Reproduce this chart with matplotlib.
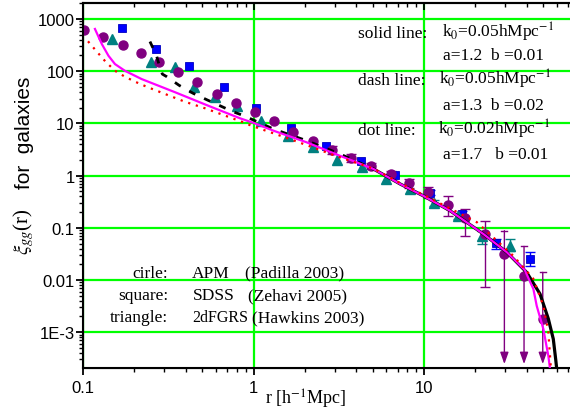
import matplotlib
matplotlib.use('Agg')
import matplotlib.pyplot as plt
import numpy as np
from matplotlib.ticker import LogLocator, FixedLocator, FixedFormatter, NullFormatter

plt.rcParams['mathtext.fontset'] = 'stix'

# ---------------------------------------------------------------- data
# circles : APM (Padilla 2003)
r_apm = [0.102, 0.1305, 0.171, 0.220, 0.280, 0.360, 0.468, 0.607, 0.789, 1.02,
         1.32, 1.71, 2.24, 2.90, 3.75, 4.89, 6.38, 8.2, 10.6, 13.8,
         17.5, 22.8, 29.6, 38.6, 49.7]
xi_apm = [624, 458, 318, 220, 150, 98, 61, 36.6, 24.3, 16.7,
          11.0, 6.9, 4.54, 3.13, 2.14, 1.53, 1.06, 0.71, 0.48, 0.277,
          0.152, 0.076, 0.0315, 0.0121, 0.00179]
# error bars (upper, lower) for the APM points that have them
r_apm_err = [2.90, 3.75, 4.89, 6.38, 8.2, 10.6, 13.8, 17.5, 22.8]
xi_apm_err = [3.13, 2.14, 1.53, 1.06, 0.71, 0.48, 0.277, 0.152, 0.076]
apm_hi = [3.7, 2.55, 1.78, 1.25, 0.86, 0.60, 0.40, 0.23, 0.137]
apm_lo = [2.65, 1.8, 1.31, 0.9, 0.59, 0.38, 0.17, 0.071, 0.0072]
# upper limits (arrows down)
r_apm_lim = [29.6, 38.6, 49.7]
apm_lim_hi = [0.088, 0.044, 0.014]
apm_lim_lo = 2.45e-4

# squares : SDSS (Zehavi 2005)
r_sdss = [0.169, 0.268, 0.417, 0.671, 1.04, 1.67, 2.66, 4.25, 6.76, 10.9,
          16.6, 26.4, 41.9]
xi_sdss = [664, 266, 127, 49, 19.7, 8.2, 3.74, 1.93, 1.03, 0.47,
           0.184, 0.0505, 0.0252]
r_sdss_err = [10.9, 16.6, 26.4, 41.9]
xi_sdss_err = [0.47, 0.184, 0.0505, 0.0252]
sdss_hi = [0.53, 0.21, 0.0617, 0.034]
sdss_lo = [0.42, 0.16, 0.0398, 0.0188]

# triangles : 2dFGRS (Hawkins 2003)
r_2df = [0.147, 0.251, 0.347, 0.448, 0.594, 0.796, 1.10, 1.6, 2.22, 3.1,
         4.31, 5.96, 8.28, 11.4, 15.9, 21.9, 31.9]
xi_2df = [414, 152, 122, 50.5, 31.6, 21.8, 11.2, 5.8, 3.48, 2.02,
          1.44, 0.86, 0.553, 0.30, 0.17, 0.069, 0.045]
r_2df_err = [11.4, 15.9, 21.9, 31.9]
xi_2df_err = [0.30, 0.17, 0.069, 0.045]
df_hi = [0.34, 0.19, 0.085, 0.061]
df_lo = [0.26, 0.15, 0.05, 0.036]

# model curves
r_solid = [0.1175, 0.129, 0.141, 0.154, 0.176, 0.221, 0.347, 0.543, 0.835, 1.02,
           1.31, 2.05, 3.21, 5.05, 7.25, 9.9, 14.2, 22.3, 30.6, 39.0,
           43.8, 45.8, 50.1, 53.6, 54.8]
xi_solid = [645, 331, 198, 137, 102, 70.6, 39.5, 21.8, 12.5, 10.0,
            7.25, 4.34, 2.4, 1.34, 0.69, 0.41, 0.213, 0.076, 0.034, 0.0155,
            0.0067, 0.0032, 0.00115, 0.00035, 0.0002]

r_dash = [0.247, 0.27, 0.28, 0.292, 0.31, 0.366, 0.442, 0.531, 0.628, 0.751,
          0.883, 1.31, 2.05, 3.21, 5.05]
xi_dash = [370, 198, 130, 88, 78.5, 53.7, 37.8, 28.5, 22.2, 17.0,
           13.9, 7.8, 4.67, 2.6, 1.34]
r_black = [5.05, 7.25, 9.9, 14.2, 22.3, 30.6, 40, 47.9, 53.6, 57.3,
           59.2, 60.0]
xi_black = [1.34, 0.69, 0.41, 0.213, 0.076, 0.034, 0.014, 0.0054, 0.0018, 0.00074,
            0.0003, 0.0002]

r_dot = [0.107, 0.12, 0.135, 0.154, 0.176, 0.202, 0.231, 0.264, 0.303, 0.396,
         0.519, 0.665, 0.851, 0.975, 1.64, 3.21, 5.05, 7.25, 9.9, 14.2,
         20.4, 33.4, 43.8, 50.1, 53.6, 55.5]
xi_dot = [374, 241, 155, 102, 78.5, 63, 52, 43.6, 36.6, 26,
          19.5, 14.5, 10.8, 9.0, 5.0, 2.24, 1.36, 0.72, 0.43, 0.235,
          0.128, 0.029, 0.0105, 0.0032, 0.001, 0.0002]

yticks = [1000, 100, 10, 1, 0.1, 0.01, 0.001]
yticklabels = ['1000', '100', '10', '1', '0.1', '0.01', '1E-3']
xticks = [0.1, 1, 10]
xticklabels = ['0.1', '1', '10']

# ---------------------------------------------------------------- plot
W, H = 570, 414
fig = plt.figure(figsize=(W / 100., H / 100.), dpi=100)
ax = fig.add_axes([83. / W, 1 - 369. / H, 1 - 83. / W, (369. - 4.) / H])

purple = '#800080'
teal = '#008080'
blue = '#0000ff'

# error bars
ax.errorbar(r_sdss_err, xi_sdss_err,
            yerr=[np.array(xi_sdss_err) - np.array(sdss_lo), np.array(sdss_hi) - np.array(xi_sdss_err)],
            fmt='none', ecolor=blue, elinewidth=1, capsize=3.5, zorder=2.5)
ax.errorbar(r_2df_err, xi_2df_err,
            yerr=[np.array(xi_2df_err) - np.array(df_lo), np.array(df_hi) - np.array(xi_2df_err)],
            fmt='none', ecolor=teal, elinewidth=1, capsize=3.5, zorder=2.5)
ax.errorbar(r_apm_err, xi_apm_err,
            yerr=[np.array(xi_apm_err) - np.array(apm_lo), np.array(apm_hi) - np.array(xi_apm_err)],
            fmt='none', ecolor=purple, elinewidth=1, capsize=3.5, zorder=2.5)
for r, hi in zip(r_apm_lim, apm_lim_hi):
    ax.plot([r / 1.04, r * 1.04], [hi, hi], color=purple, lw=1, zorder=2.5)
    ax.annotate('', xy=(r, apm_lim_lo), xytext=(r, hi),
                arrowprops=dict(arrowstyle='-|>,head_length=0.7,head_width=0.25',
                                color=purple, lw=1, shrinkA=0, shrinkB=0),
                zorder=2.5)

# data points
ax.plot(r_sdss, xi_sdss, 's', color=blue, ms=6, mec='#0000c0', mew=0.6, zorder=3)
ax.plot(r_2df, xi_2df, '^', color=teal, ms=7.5, mec=teal, zorder=3.1)
ax.plot(r_apm, xi_apm, 'o', color=purple, ms=6.5, mec=purple, zorder=3.2)

# model lines
ax.plot(r_black, xi_black, '-', color='black', lw=2.3, zorder=4)
ax.plot(r_dash, xi_dash, color='black', lw=2, linestyle=(0, (2.5, 3.5)), zorder=4.1)
ax.plot(r_solid, xi_solid, '-', color='#ff00ff', lw=1.6, zorder=4.2)
ax.plot(r_dot, xi_dot, color='#ff0000', lw=1.6, linestyle=(0, (1, 2.6)), zorder=4.3)

ax.set_xscale('log')
ax.set_yscale('log')
ax.set_xlim(0.1, 71.8)
ax.set_ylim(2.06e-4, 2027)

ax.grid(True, which='major', color='#00ff00', lw=1.6, zorder=1)
ax.set_axisbelow(True)

ax.xaxis.set_major_locator(FixedLocator(xticks))
ax.xaxis.set_major_formatter(FixedFormatter(xticklabels))
ax.xaxis.set_minor_locator(LogLocator(base=10, subs=np.arange(2, 10), numticks=20))
ax.xaxis.set_minor_formatter(NullFormatter())
ax.yaxis.set_major_locator(FixedLocator(yticks))
ax.yaxis.set_major_formatter(FixedFormatter(yticklabels))
ax.yaxis.set_minor_locator(LogLocator(base=10, subs=np.arange(2, 10), numticks=20))
ax.yaxis.set_minor_formatter(NullFormatter())

for lab in ax.get_xticklabels() + ax.get_yticklabels():
    lab.set_family('Liberation Sans')
    lab.set_fontsize(12)

ax.tick_params(which='major', direction='out', length=5, width=1.3, top=False, right=False)
ax.tick_params(which='minor', direction='out', length=3, width=1.0, top=False, right=False)
ax.tick_params(axis='y', pad=1)
ax.tick_params(axis='x', pad=4)

for side in ['left', 'bottom', 'top']:
    ax.spines[side].set_linewidth(1.5)
ax.spines['right'].set_visible(False)

# inward ticks on the top edge
ax2 = ax.twiny()
ax2.set_xscale('log')
ax2.set_xlim(ax.get_xlim())
ax2.xaxis.set_major_locator(FixedLocator(xticks))
ax2.xaxis.set_minor_locator(LogLocator(base=10, subs=np.arange(2, 10), numticks=20))
ax2.xaxis.set_major_formatter(NullFormatter())
ax2.xaxis.set_minor_formatter(NullFormatter())
ax2.tick_params(which='major', direction='in', length=5, width=1.3)
ax2.tick_params(which='minor', direction='in', length=3, width=1.0)
ax2.spines['right'].set_visible(False)
ax2.spines['top'].set_linewidth(1.5)


def ftext(x, y, s, **kw):
    fig.text(x / W, 1 - y / H, s, **kw)


serif = dict(family='Liberation Serif', fontsize=12.5, va='baseline')

ftext(358, 37.5, 'solid line:', ha='left', **serif)
ftext(442, 37.5, 'k$_0$=0.05hMpc$^{-1}$', ha='left', **serif)
ftext(443, 60, 'a=1.2  b =0.01', ha='left', **serif)
ftext(358, 85, 'dash line:', ha='left', **serif)
ftext(439, 85, 'k$_0$=0.05hMpc$^{-1}$', ha='left', **serif)
ftext(443, 110, 'a=1.3  b =0.02', ha='left', **serif)
ftext(358, 135, 'dot line:', ha='left', **serif)
ftext(438, 135, 'k$_0$=0.02hMpc$^{-1}$', ha='left', **serif)
ftext(443, 159.5, 'a=1.7   b =0.01', ha='left', **serif)

ftext(168, 277.7, 'cirle:', ha='right', **serif)
ftext(192, 277.7, 'APM', ha='left', **serif)
ftext(245, 277.7, '(Padilla 2003)', ha='left', **serif)
ftext(168, 300, 'square:', ha='right', **serif)
ftext(193, 300, 'SDSS', ha='left', **serif)
ftext(248, 300, '(Zehavi 2005)', ha='left', **serif)
ftext(168, 322.3, 'triangle:', ha='right', **serif)
ftext(192, 322.3, '2dFGRS', ha='left', family='Liberation Serif', fontsize=11.5, va='baseline')
ftext(252, 322.3, '(Hawkins 2003)', ha='left', **serif)

ftext(306, 399, 'r [h$^{-1}$Mpc]', ha='center', va='center',
      family='Liberation Serif', fontsize=13)

ftext(24, 232, r'$\xi_{gg}$(r)', ha='center', va='center', rotation=90,
      family='Liberation Serif', fontsize=15)
ftext(25, 133, 'for  galaxies', ha='center', va='center', rotation=90,
      family='Liberation Sans', fontsize=15)

plt.savefig('out.png', dpi=100)
